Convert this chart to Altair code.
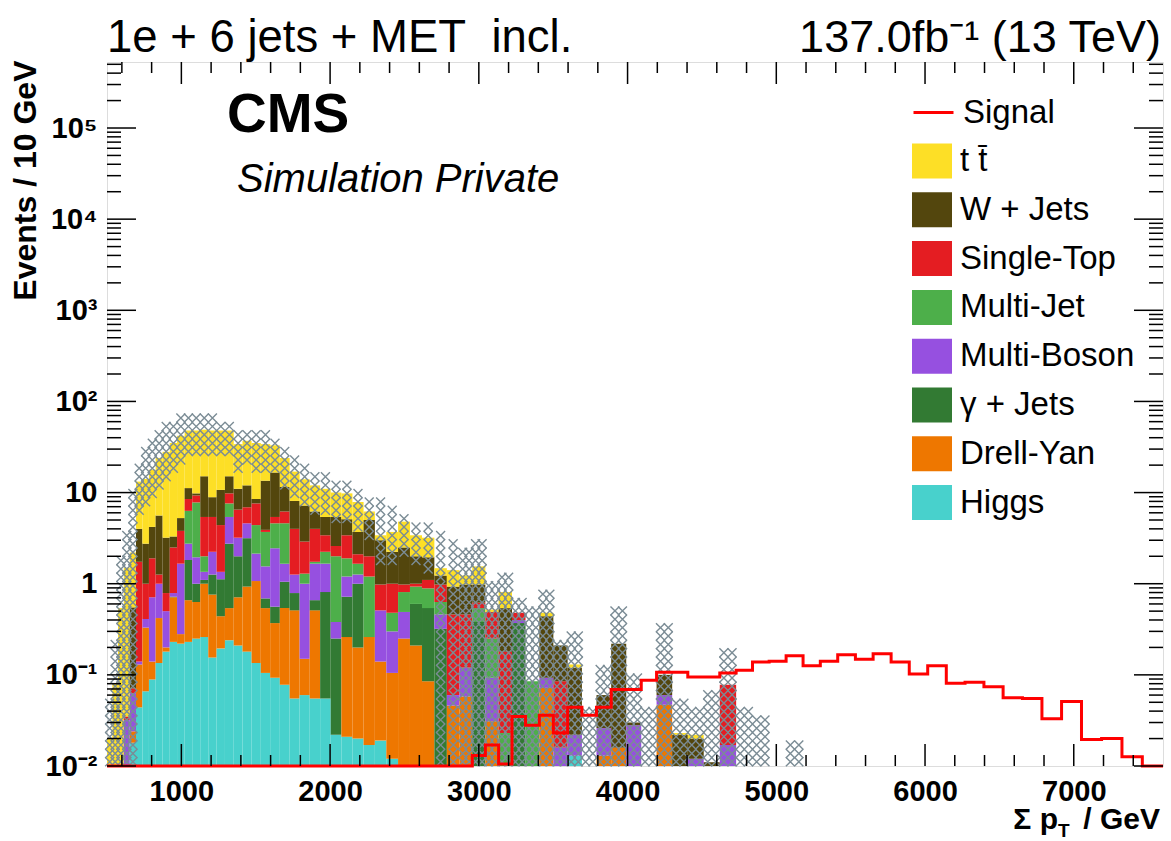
import altair as alt
import numpy as np
import pandas as pd

FONT = "Liberation Sans"

# ------------------------------------------------------------------ binning (GeV)
bin_edges = [500, 536, 574, 613, 653, 695, 738, 782, 827, 874,
             922, 971, 1022, 1073, 1127, 1181, 1237, 1293, 1352, 1411,
             1472, 1534, 1597, 1662, 1728, 1795, 1863, 1933, 2004, 2076,
             2150, 2225, 2301, 2378, 2457, 2537, 2618, 2701, 2785, 2870,
             2956, 3044, 3133, 3223, 3314, 3407, 3501, 3597, 3693, 3791,
             3890, 3991, 4092, 4195, 4300, 4405, 4512, 4620, 4730, 4840,
             4952, 5066, 5180, 5296, 5413, 5532, 5651, 5772, 5894, 6018,
             6143, 6269, 6396, 6525, 6655, 6786, 6918, 7052, 7187, 7324,
             7461, 7600]

N = None
# upper edge of each process in the stack (events / bin), bins 0..61
top_higgs = [N, N, N, N, .018, .044, .066, .089, .135, .18,
             .23, .22, .23, .25, .26, .155, .195, .24, .21, .18,
             .135, .105, .093, .078, .055, .060, .055, .055, .022, .021,
             .020, .017, .019, .012, N, N, N, N, N, N,
             N, N, N, N, N, N, N, .013, N, N,
             N, N, N, N, N, N, N, N, N, N, N, N]
top_drell_yan = [N, N, N, N, .024, .13, .33, .14, .42, .20,
                 .71, .28, .66, .63, 1.0, .76, .44, .54, .71, .93,
                 1.07, .54, .37, .54, .51, .15, .51, N, N, .26,
                 .20, .26, .14, .105, .25, .21, .085, N, .046, .058,
                 N, .031, N, N, N, .072, N, N, N, .013,
                 .016, N, N, .047, N, N, N, N, N, N, N, N]
top_gamma_jets = [N, N, N, N, N, N, N, N, N, N,
                  .72, N, 1.82, 1.0, 1.1, 1.26, 1.12, 2.75, 2.0, 3.16,
                  N, .69, .56, 1.05, .79, N, .66, .81, .25, .72,
                  1.0, N, N, N, N, .60, .54, .32, N, N,
                  .38, N, N, .37, N, N, N, N, N, N,
                  N, N, N, N, N, N, N, N, N, N, N, N]
top_multi_boson = [N, N, N, .032, .063, .14, .41, .71, 1.0, .50,
                   .79, 1.66, 2.75, 1.95, 1.35, 2.24, 1.35, 5.4, 3.2, 4.6,
                   2.14, 1.55, 2.45, 1.66, 1.26, 1.0, 1.66, 1.66, .38, 1.2,
                   1.26, N, .51, .30, .49, N, N, .46, .060, .12,
                   N, .093, N, .40, N, .093, .016, .022, N, .026,
                   N, .028, N, .06, N, .012, N, .017, N, N, N, N]
top_multi_jet = [N, N, N, N, N, N, N, N, N, N,
                 N, N, 6.3, 7.8, 2.0, N, N, 7.6, N, N,
                 4.4, 3.7, 4.6, 4.6, N, 1.29, 1.74, 2.24, 2.0, 1.9,
                 1.66, 1.2, N, .48, .81, .93, .89, .63, N, N,
                 .54, .25, .023, N, .085, N, N, N, N, N,
                 N, N, N, N, N, N, N, N, N, N, N, N]
top_single_top = [N, N, N, .035, .071, 1.74, 1.0, 1.9, 1.26, .79,
                  2.5, 3.8, 8.5, 9.3, 5.4, 5.4, 4.4, 9.8, 6.5, 6.9,
                  7.6, 3.9, 5.4, 6.2, 4.0, 2.9, 4.0, 3.4, 2.6, 3.4,
                  2.1, 2.0, .98, 1.0, .98, 1.0, 1.1, .98, .46, .46,
                  .62, .49, .18, .48, N, N, .085, N, N, N,
                  N, N, N, N, N, N, N, .078, N, N, N, N]
top_w_jets = [N, N, N, N, .55, 4.0, 2.75, 4.2, 5.6, 3.2,
              3.3, 5.25, 11.2, 9.8, 15.1, 8.9, 10.7, 15.1, 11.0, 12.0,
              8.5, 13.5, 16.6, 11.5, 8.1, 7.2, 6.2, 5.4, 5.4, 5.1,
              3.7, 5.0, 3.0, 2.24, 2.5, 2.0, 1.95, 1.23, .93, .98,
              .98, N, .54, N, N, .44, .21, .12, N, .06,
              .22, .03, N, .10, .022, .020, .011, N, N, N, N, N]
top_ttbar = [.02, .08, .54, 1.5, 2.2, 13.2, 14.1, 17.8, 24, 28,
             35, 42, 48, 48, 49, 48, 48, 48, 34, 37,
             35, 34, 33, 24, 17, 14, 12, 11, 10, 9.8,
             7.9, 6.2, 3.4, 3.7, 4.8, 3.4, 3.2, 1.48, 1.41, 1.23,
             1.55, .52, .81, N, N, .48, N, .13, N, N,
             N, N, N, N, .023, .022, N, N, N, N, N, N]

# total-background uncertainty band (events / bin)
band_hi = [.05, .23, 2.1, 3.7, 10, 20, 30, 40, 48, 55,
           60, 66, 68, 68, 66, 66, 63, 60, 52, 48,
           48, 48, 42, 32, 24, 20, 17, 15, 14, 13,
           11, 9.5, 8.3, 7.2, 6.3, 5.0, 4.4, 3.6, 3.0, 2.24,
           2.9, .98, 1.41, .72, .51, .89, .25, .28, .047, .13,
           .54, .10, .044, .34, .06, .046, .069, .19, .046, .037,
           0, .017]
band_lo = [0, 0, 0, 0, 0, 6, 7, 9, 12, 14,
           17, 20, 24, 24, 25, 24, 24, 24, 17, 19,
           18, 17, 17, 12, 8.5, 7, 6, 5.5, 5, 5,
           4, 3, 1.5, 1.5, 2, 1.5, 1.2, 0, 0, 0,
           0, 0, 0, 0, 0, 0, 0, 0, 0, 0,
           0, 0, 0, 0, 0, 0, 0, 0, 0, 0,
           0, 0]

# signal (events / bin), bins 0..80
signal = [0] * 40 + [
    .013, .017, .0105, .035, .028, .036, .023, .044, .036, .044,
    .069, .069, .087, .107, .107, .095, .095, .105, .112, .138,
    .141, .162, .126, .141, .166, .148, .170, .138, .102, .126,
    .081, .083, .074, .056, .055, .033, .051, .0195, .020, .0126,
    0]

processes = ["Higgs", "Drell-Yan", "\u03b3 + Jets", "Multi-Boson",
             "Multi-Jet", "Single-Top", "W + Jets", "t t\u0304"]
colors = ["#48d1cc", "#ee7700", "#327a33", "#9650e0",
          "#4daf4a", "#e41d22", "#53460d", "#fddf26"]
stack_tops = [top_higgs, top_drell_yan, top_gamma_jets, top_multi_boson,
              top_multi_jet, top_single_top, top_w_jets, top_ttbar]

# ------------------------------------------------------------------ geometry
W, H = 1056, 704
XMIN, XMAX = 500, 7600
YMIN, YMAX = 0.01, 5.3e5
FLOOR = 1e-3

# ------------------------------------------------------------------ stacked bars
rows = []
for k in range(len(top_ttbar)):
    below = FLOOR
    for name, tops in zip(processes, stack_tops):
        t = tops[k]
        if t is None:
            continue
        rows.append(dict(gev=bin_edges[k], gev2=bin_edges[k + 1],
                         events=below, events2=t, process=name))
        below = t
bars = pd.DataFrame(rows)

# ------------------------------------------------------------------ hatch texture for the band
px_per_gev = W / (XMAX - XMIN)
LOG_STEP = 0.092
LOG_MIN = np.log10(YMIN)
hatch = []
for k, hi in enumerate(band_hi):
    if hi <= 0:
        continue
    lo = max(band_lo[k], YMIN)
    l0, l1 = np.log10(lo), np.log10(hi)
    e0, e1 = bin_edges[k], bin_edges[k + 1]
    ncol = max(1, int(round((e1 - e0) * px_per_gev / 8.5)))
    n_first = int(np.floor((l0 - LOG_MIN) / LOG_STEP))
    for c in range(ncol):
        xc = e0 + (c + 0.5) * (e1 - e0) / ncol
        found = False
        n = n_first
        while True:
            yl = LOG_MIN + (n + 0.5) * LOG_STEP
            if yl > l1:
                break
            if yl >= l0:
                hatch.append(dict(gev=xc, events=10 ** yl))
                found = True
            n += 1
        if not found:
            hatch.append(dict(gev=xc, events=10 ** ((l0 + l1) / 2)))
hatch_df = pd.DataFrame(hatch)

# ------------------------------------------------------------------ signal outline
sig_df = pd.DataFrame({
    "gev": bin_edges,
    "events": [max(v, FLOOR) for v in signal] + [max(signal[-1], FLOOR)],
    "name": "Signal",
})

# ------------------------------------------------------------------ scales / axes
x_scale = alt.Scale(domain=[XMIN, XMAX], nice=False, zero=False)
y_scale = alt.Scale(type="log", domain=[YMIN, YMAX], nice=False, clamp=True)

y_label_expr = ("datum.value < 0.05 ? '10\u207b\u00b2' : datum.value < 0.5 ? '10\u207b\u00b9' : "
                "datum.value < 5 ? '1' : datum.value < 50 ? '10' : datum.value < 500 ? '10\u00b2' : "
                "datum.value < 5000 ? '10\u00b3' : datum.value < 50000 ? '10\u2074' : '10\u2075'")

x_axis = alt.Axis(values=[1000, 2000, 3000, 4000, 5000, 6000, 7000], format="d",
                  labelFont=FONT, labelFontWeight="bold", labelFontSize=29,
                  labelColor="black", labelPadding=11, ticks=False, domain=False,
                  grid=False, title="")
y_axis = alt.Axis(values=[0.01, 0.1, 1, 10, 100, 1000, 10000, 100000],
                  labelExpr=y_label_expr, labelFont=FONT, labelFontWeight="bold",
                  labelFontSize=29, labelColor="black", labelPadding=10,
                  ticks=False, domain=False, grid=False,
                  title="Events / 10 GeV", titleFont=FONT, titleFontWeight="bold",
                  titleFontSize=32, titleColor="black", titleAngle=270,
                  titleAlign="right", titleBaseline="middle", titleX=-82, titleY=-2)

X = alt.X("gev:Q", scale=x_scale, axis=x_axis)
Y = alt.Y("events:Q", scale=y_scale, axis=y_axis)

fill_legend = alt.Legend(orient="none", legendX=805, legendY=79, title=None,
                         symbolType="M-1,-0.875H1V0.875H-1Z", symbolSize=1600,
                         symbolStrokeWidth=0, symbolOpacity=1,
                         labelFont=FONT, labelFontSize=33, labelColor="black",
                         labelOffset=8, rowPadding=10.8, padding=0, labelLimit=400)
line_legend = alt.Legend(orient="none", legendX=805, legendY=29, title=None,
                         symbolType="stroke", symbolSize=1600, symbolStrokeWidth=3,
                         labelFont=FONT, labelFontSize=33, labelColor="black",
                         labelOffset=8, padding=0, labelLimit=400)

legend_order = list(reversed(processes))
legend_colors = list(reversed(colors))

bar_layer = alt.Chart(bars).mark_rect(strokeWidth=0).encode(
    x=X, x2="gev2:Q", y=Y, y2="events2:Q",
    fill=alt.Fill("process:N", scale=alt.Scale(domain=legend_order, range=legend_colors),
                  legend=fill_legend),
)

hatch_layer = alt.Chart(hatch_df).mark_point(
    shape="M-1,-1L1,1M1,-1L-1,1", size=80, filled=False, strokeWidth=1.4,
    color="#7b8c95", opacity=1,
).encode(x=X, y=Y)

signal_layer = alt.Chart(sig_df).mark_line(interpolate="step-after", strokeWidth=3).encode(
    x=X, y=Y,
    stroke=alt.Stroke("name:N", scale=alt.Scale(domain=["Signal"], range=["#ff0000"]),
                      legend=line_legend),
)

# ------------------------------------------------------------------ ROOT-style inner ticks
x_major = [1000, 2000, 3000, 4000, 5000, 6000, 7000]
x_minor = [v for v in range(600, 7600, 200) if v % 1000 != 0]
y_major = [10.0 ** d for d in range(-2, 6)]
y_minor = [m * 10.0 ** d for d in range(-2, 6) for m in range(2, 10) if m * 10.0 ** d < YMAX]


def x_ticks(values, length):
    d = pd.DataFrame({"gev": values})
    bottom = alt.Chart(d).mark_rule(color="black", strokeWidth=1.5).encode(
        x=X, y=alt.value(H), y2=alt.value(H - length))
    top = alt.Chart(d).mark_rule(color="black", strokeWidth=1.5).encode(
        x=X, y=alt.value(0), y2=alt.value(length))
    return [bottom, top]


def y_ticks(values, length):
    d = pd.DataFrame({"events": values})
    left = alt.Chart(d).mark_rule(color="black", strokeWidth=1.5).encode(
        y=Y, x=alt.value(0), x2=alt.value(length))
    right = alt.Chart(d).mark_rule(color="black", strokeWidth=1.5).encode(
        y=Y, x=alt.value(W), x2=alt.value(W - length))
    return [left, right]


ticks = (x_ticks(x_major, 22) + x_ticks(x_minor, 11)
         + y_ticks(y_major, 29) + y_ticks(y_minor, 14))

# ------------------------------------------------------------------ annotations
one = pd.DataFrame({"a": [0]})


def text(t, x, y, size, weight="normal", style="normal", align="left"):
    return alt.Chart(one).mark_text(
        text=t, font=FONT, fontSize=size, fontWeight=weight, fontStyle=style,
        align=align, baseline="alphabetic", color="black",
    ).encode(x=alt.value(x), y=alt.value(y))


annotations = [
    text("1e + 6 jets + MET\u00a0 incl.", 0, -10, 45.5),
    text("137.0fb\u207b\u00b9 (13 TeV)", W - 2, -10, 45, align="right"),
    text("CMS", 120, 70, 55, weight="bold"),
    text("Simulation Private", 130, 130, 40, style="italic"),
    text("\u03a3 p", 951, 767, 30, weight="bold", align="right"),
    text("T", 951, 775, 19, weight="bold"),
    text("/ GeV", W - 3, 767, 30, weight="bold", align="right"),
]

chart = alt.layer(bar_layer, hatch_layer, signal_layer, *ticks, *annotations).properties(
    width=W, height=H,
    autosize=alt.AutoSizeParams(type="none"),
    padding={"left": 107, "top": 62, "right": 8, "bottom": 75},
).resolve_scale(
    fill="independent", stroke="independent"
).configure_view(stroke="black", strokeWidth=2).configure(background="white")

chart.save("out.html", embed_options={"renderer": "svg", "actions": False})
